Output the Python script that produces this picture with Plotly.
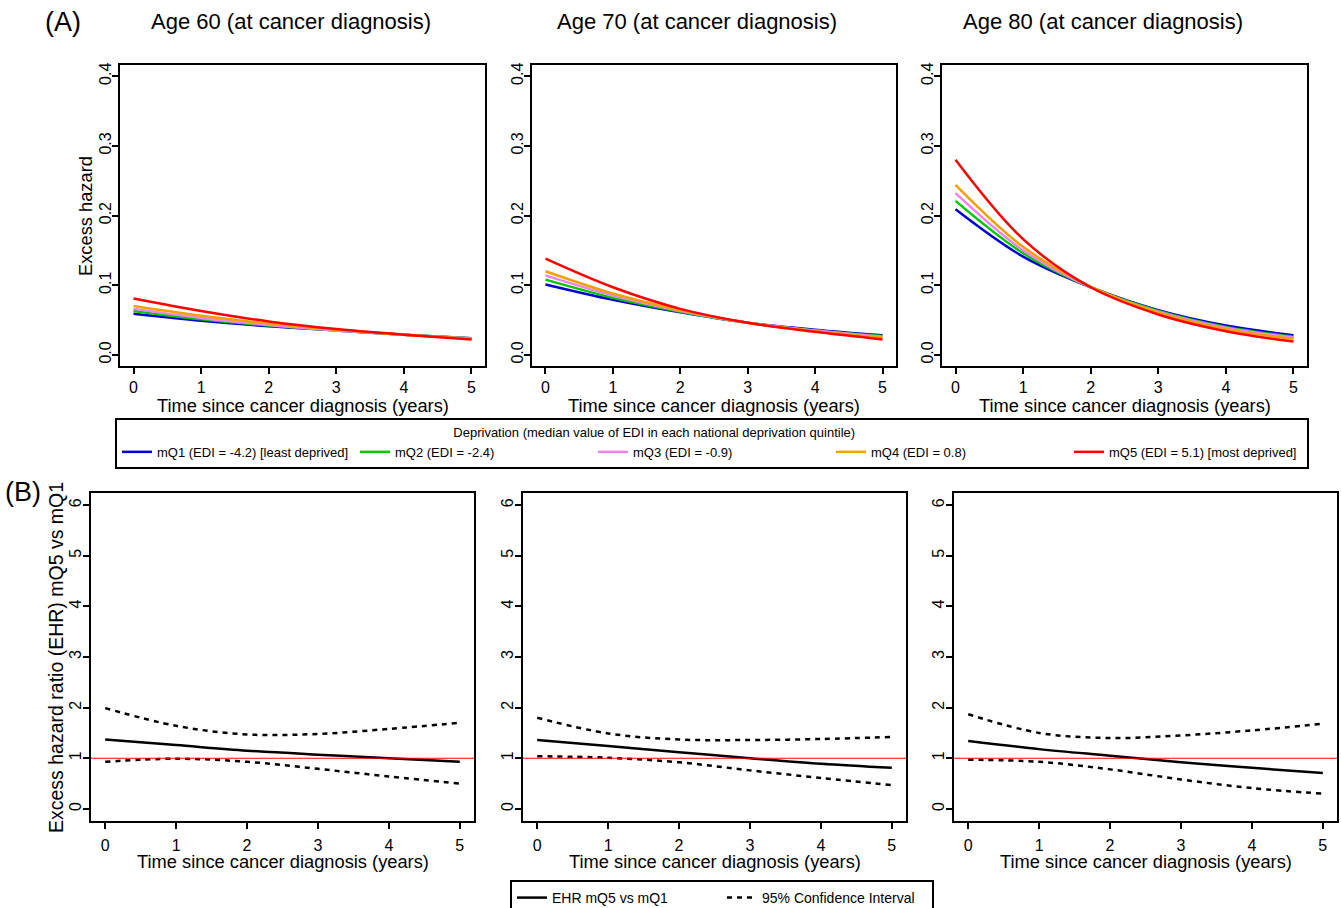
import plotly.graph_objects as go

W, H = 1341, 908

# data
TIME = [0, 1, 2, 3, 4, 5]

AGE_TITLES = ['Age 60 (at cancer diagnosis)', 'Age 70 (at cancer diagnosis)', 'Age 80 (at cancer diagnosis)']

QUINTILES = ['mQ1 (EDI = -4.2) [least deprived]', 'mQ2 (EDI = -2.4)', 'mQ3 (EDI = -0.9)',
             'mQ4 (EDI = 0.8)', 'mQ5 (EDI = 5.1) [most deprived]']
QUINTILE_COLORS = ['#0000CD', '#00C800', '#EE82EE', '#F2A000', '#FF0000']

# excess hazard per quintile (mQ1..mQ5)
HAZARD_AGE60 = [
    [0.059, 0.049, 0.041, 0.035, 0.029, 0.024],
    [0.063, 0.051, 0.042, 0.035, 0.029, 0.024],
    [0.066, 0.053, 0.043, 0.035, 0.029, 0.0235],
    [0.070, 0.056, 0.045, 0.036, 0.029, 0.023],
    [0.081, 0.063, 0.048, 0.037, 0.029, 0.022],
]
HAZARD_AGE70 = [
    [0.101, 0.079, 0.061, 0.046, 0.036, 0.028],
    [0.108, 0.082, 0.062, 0.046, 0.035, 0.027],
    [0.114, 0.085, 0.063, 0.046, 0.035, 0.026],
    [0.120, 0.088, 0.064, 0.046, 0.034, 0.025],
    [0.138, 0.097, 0.066, 0.046, 0.033, 0.022],
]
HAZARD_AGE80 = [
    [0.209, 0.141, 0.097, 0.064, 0.042, 0.028],
    [0.221, 0.146, 0.097, 0.063, 0.040, 0.026],
    [0.232, 0.150, 0.097, 0.062, 0.039, 0.025],
    [0.244, 0.155, 0.098, 0.061, 0.037, 0.023],
    [0.280, 0.166, 0.097, 0.058, 0.034, 0.019],
]

# excess hazard ratio mQ5 vs mQ1 with 95% CI
EHR_AGE60 = [1.37, 1.26, 1.15, 1.07, 1.00, 0.93]
EHR_LOW_AGE60 = [0.93, 0.99, 0.93, 0.79, 0.64, 0.50]
EHR_HIGH_AGE60 = [1.99, 1.64, 1.47, 1.48, 1.58, 1.70]

EHR_AGE70 = [1.36, 1.24, 1.12, 1.00, 0.89, 0.81]
EHR_LOW_AGE70 = [1.04, 1.01, 0.92, 0.76, 0.61, 0.47]
EHR_HIGH_AGE70 = [1.80, 1.49, 1.37, 1.36, 1.38, 1.42]

EHR_AGE80 = [1.34, 1.18, 1.05, 0.92, 0.81, 0.71]
EHR_LOW_AGE80 = [0.97, 0.93, 0.78, 0.58, 0.41, 0.30]
EHR_HIGH_AGE80 = [1.87, 1.50, 1.40, 1.45, 1.55, 1.68]

EHR_REF = 1

HAZARDS = [HAZARD_AGE60, HAZARD_AGE70, HAZARD_AGE80]
EHRS = [(EHR_AGE60, EHR_LOW_AGE60, EHR_HIGH_AGE60),
        (EHR_AGE70, EHR_LOW_AGE70, EHR_HIGH_AGE70),
        (EHR_AGE80, EHR_LOW_AGE80, EHR_HIGH_AGE80)]

FONT = 'Liberation Sans, Arial, sans-serif'


def px_x(v):
    return v / W


def px_y(v):
    return 1 - v / H


def ax_id(letter, i):
    return letter if i == 1 else '%s%d' % (letter, i)


# panel boxes in pixels (left, right)
A_COLS = [(120, 485), (532, 896), (942, 1307)]
A_ROW = (65, 366)
B_COLS = [(91, 474), (523, 906), (954, 1337)]
B_ROW = (493, 821)


def axis_style(rng, tickvals, tickformat=None, angle=None, standoff=3):
    d = dict(
        range=rng, tickvals=tickvals, showline=True, linecolor='black', linewidth=2,
        mirror=True, ticks='outside', ticklen=6, tickwidth=1.5, tickcolor='black',
        showgrid=False, zeroline=False, tickfont=dict(size=16, color='black', family=FONT),
        ticklabelstandoff=standoff,
    )
    if tickformat:
        d['tickformat'] = tickformat
    if angle is not None:
        d['tickangle'] = angle
    return d


fig = go.Figure()

# (A) excess hazard curves
for p, hz in enumerate(HAZARDS):
    for q, name in enumerate(QUINTILES):
        fig.add_trace(go.Scatter(
            x=TIME, y=hz[q], mode='lines', name=name,
            line=dict(color=QUINTILE_COLORS[q], width=2.5, shape='spline'),
            xaxis=ax_id('x', p + 1), yaxis=ax_id('y', p + 1),
            showlegend=(p == 0), legend='legend',
        ))

# (B) EHR curves
for p, (ehr, low, high) in enumerate(EHRS):
    ax = p + 4
    fig.add_trace(go.Scatter(
        x=TIME, y=ehr, mode='lines', name='EHR mQ5 vs mQ1',
        line=dict(color='black', width=2.5, shape='spline'),
        xaxis=ax_id('x', ax), yaxis=ax_id('y', ax), showlegend=(p == 0), legend='legend2',
    ))
    fig.add_trace(go.Scatter(
        x=TIME, y=low, mode='lines', name='95% Confidence Interval',
        line=dict(color='black', width=2.5, shape='spline', dash='5px,5px'),
        xaxis=ax_id('x', ax), yaxis=ax_id('y', ax), showlegend=(p == 0), legend='legend2',
    ))
    fig.add_trace(go.Scatter(
        x=TIME, y=high, mode='lines', name='95% Confidence Interval',
        line=dict(color='black', width=2.5, shape='spline', dash='5px,5px'),
        xaxis=ax_id('x', ax), yaxis=ax_id('y', ax), showlegend=False,
    ))
    fig.add_shape(type='line', xref=ax_id('x', ax) + ' domain', yref=ax_id('y', ax),
                  x0=0, x1=1, y0=EHR_REF, y1=EHR_REF,
                  line=dict(color='#FF0000', width=1.2))

layout = {}
for p in range(3):
    i = p + 1
    l, r = A_COLS[p]
    layout[ax_id('xaxis', i)] = dict(axis_style([-0.2, 5.2], TIME, standoff=0),
                                     domain=[px_x(l), px_x(r)], anchor=ax_id('y', i))
    layout[ax_id('yaxis', i)] = dict(axis_style([-0.016, 0.416], [0, 0.1, 0.2, 0.3, 0.4], '.1f', -90, -5),
                                     domain=[px_y(A_ROW[1]), px_y(A_ROW[0])], anchor=ax_id('x', i))
    i = p + 4
    l, r = B_COLS[p]
    layout[ax_id('xaxis', i)] = dict(axis_style([-0.2, 5.2], TIME),
                                     domain=[px_x(l), px_x(r)], anchor=ax_id('y', i))
    layout[ax_id('yaxis', i)] = dict(axis_style([-0.24, 6.24], [0, 1, 2, 3, 4, 5, 6], None, -90, -4),
                                     domain=[px_y(B_ROW[1]), px_y(B_ROW[0])], anchor=ax_id('x', i))

fig.update_layout(**layout)

annotations = []
# panel letters and titles
annotations.append(dict(text='(A)', x=px_x(63), y=px_y(22), font=dict(size=27)))
annotations.append(dict(text='(B)', x=px_x(23), y=px_y(492), font=dict(size=27)))
for p, cx in enumerate([291, 697, 1103]):
    annotations.append(dict(text=AGE_TITLES[p], x=px_x(cx), y=px_y(22), font=dict(size=22)))

# axis titles
for p in range(3):
    annotations.append(dict(text='Time since cancer diagnosis (years)', xref=ax_id('x', p + 1) + ' domain',
                            x=0.5, y=px_y(405), font=dict(size=18.3)))
    annotations.append(dict(text='Time since cancer diagnosis (years)', xref=ax_id('x', p + 4) + ' domain',
                            x=0.5, y=px_y(861), font=dict(size=18.3)))
annotations.append(dict(text='Excess hazard', x=px_x(86), y=px_y(216), textangle=-90, font=dict(size=18.3)))
annotations.append(dict(text='Excess hazard ratio (EHR) mQ5 vs mQ1', x=px_x(56), y=px_y(658),
                        textangle=-90, font=dict(size=19.5)))

for a in annotations:
    a.setdefault('xref', 'paper')
    a.setdefault('yref', 'paper')
    a['showarrow'] = False
    a['xanchor'] = 'center'
    a['yanchor'] = 'middle'
    a['font'] = dict(a['font'], color='black', family=FONT)

legend_title = 'Deprivation (median value of EDI in each national deprivation quintile)' + '\u00a0' * 32

fig.update_layout(
    annotations=annotations,
    width=W, height=H, autosize=False,
    margin=dict(l=0, r=0, t=0, b=0, autoexpand=False),
    paper_bgcolor='white', plot_bgcolor='white',
    font=dict(family=FONT, color='black'),
    legend=dict(
        orientation='h', x=px_x(115), y=px_y(418), xanchor='left', yanchor='top',
        bordercolor='black', borderwidth=2, bgcolor='white',
        entrywidth=193, entrywidthmode='pixels',
        title=dict(text=legend_title, side='top center', font=dict(size=13)),
        font=dict(size=13, color='black'), traceorder='normal', itemwidth=30,
    ),
    legend2=dict(
        orientation='h', x=px_x(510), y=px_y(880), xanchor='left', yanchor='top',
        bordercolor='black', borderwidth=2, bgcolor='white',
        entrywidth=165, entrywidthmode='pixels',
        font=dict(size=14, color='black'), traceorder='normal', itemwidth=30,
    ),
)

fig.write_html('out.html', config={'displayModeBar': False},
               post_script="document.body.style.margin='0';")
